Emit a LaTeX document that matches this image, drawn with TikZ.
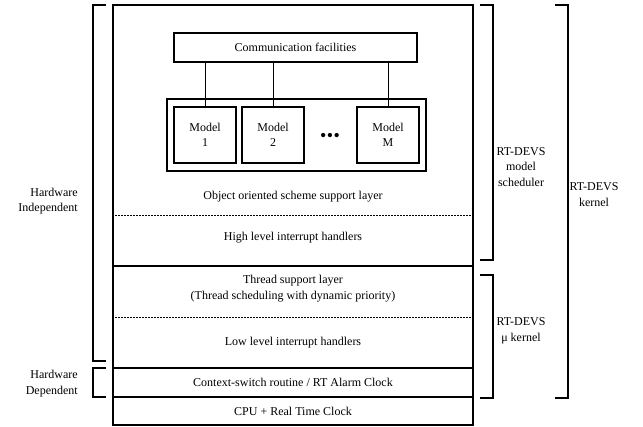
\documentclass[tikz,border=0pt]{standalone}
\usepackage{fontspec}
\setmainfont{Liberation Serif}
\begin{document}
\begin{tikzpicture}[x=1pt,y=-1pt,
  every node/.style={font=\fontsize{12}{15.5}\selectfont, inner sep=0pt},
  box/.style={draw, line width=1.1pt, rectangle, minimum width=360, anchor=center},
  inbox/.style={draw, line width=1.1pt, rectangle},
  sep/.style={line width=0.6pt, dash pattern=on 2pt off 1pt},
  conn/.style={line width=0.9pt},
  bracket/.style={line width=1.1pt},
  lbl/.style={align=center},
  rlbl/.style={align=right, anchor=east}]
\useasboundingbox (0,0) rectangle (643,426);

% layered structure
\node[box, minimum height=261] (upper) at (293,135.5) {};
\node[box, minimum height=102] (lower) at (293,317) {};
\node[box, minimum height=29] (ctx) at (293,382.5) {Context-switch routine / RT Alarm Clock};
\node[box, minimum height=28] (cpu) at (293,411) {CPU + Real Time Clock};

% dotted separators inside the two upper blocks
\coordinate (s1) at (0,215);
\coordinate (s2) at (0,317);
\draw[sep] (upper.west |- s1) -- (upper.east |- s1);
\draw[sep] (lower.west |- s2) -- (lower.east |- s2);

% layer captions
\node[lbl] (oos) at (293,197) {Object oriented scheme support layer};
\node[lbl] (high) at (293,238) {High level interrupt handlers};
\node[lbl] (thread) at (293,288.5) {Thread support layer\\(Thread scheduling with dynamic priority)};
\node[lbl] (low) at (293,343) {Low level interrupt handlers};

% communication facilities and models
\node[inbox, minimum width=243, minimum height=29] (comm) at (295.5,47.5) {Communication facilities};
\node[inbox, minimum width=259, minimum height=72] (models) at (296.5,135) {};
\node[inbox, minimum width=62, minimum height=56, align=center] (m1) at (205,135) {Model\\1};
\node[inbox, minimum width=62, minimum height=56, align=center] (m2) at (273,135) {Model\\2};
\node[inbox, minimum width=62, minimum height=56, align=center] (mM) at (388,135) {Model\\M};
\node (dots) at (330,137) {\fontsize{18}{18}\selectfont\textbullet\hspace{0.5pt}\textbullet\hspace{0.5pt}\textbullet};
\draw[conn] (m1.north) -- (m1.north |- comm.south);
\draw[conn] (m2.north) -- (m2.north |- comm.south);
\draw[conn] (mM.north) -- (mM.north |- comm.south);

% right-hand brackets
\draw[bracket] (480,5) -- (493,5) -- (493,260) -- (480,260);
\node[lbl] (sched) at (521,167) {RT-DEVS\\model\\scheduler};
\draw[bracket] (480,275) -- (493,275) -- (493,398) -- (480,398);
\node[lbl] (ukern) at (521,331) {RT-DEVS\\μ kernel};
\draw[bracket] (555,5) -- (568,5) -- (568,398) -- (555,398);
\node[lbl] (kern) at (594,194.5) {RT-DEVS\\kernel};

% left-hand brackets
\draw[bracket] (106,5) -- (93,5) -- (93,361) -- (106,361);
\node[rlbl] (hwi) at (78,201) {Hardware\\Independent};
\draw[bracket] (106,368) -- (93,368) -- (93,397) -- (106,397);
\node[rlbl] (hwd) at (78,383.5) {Hardware\\Dependent};
\end{tikzpicture}
\end{document}
